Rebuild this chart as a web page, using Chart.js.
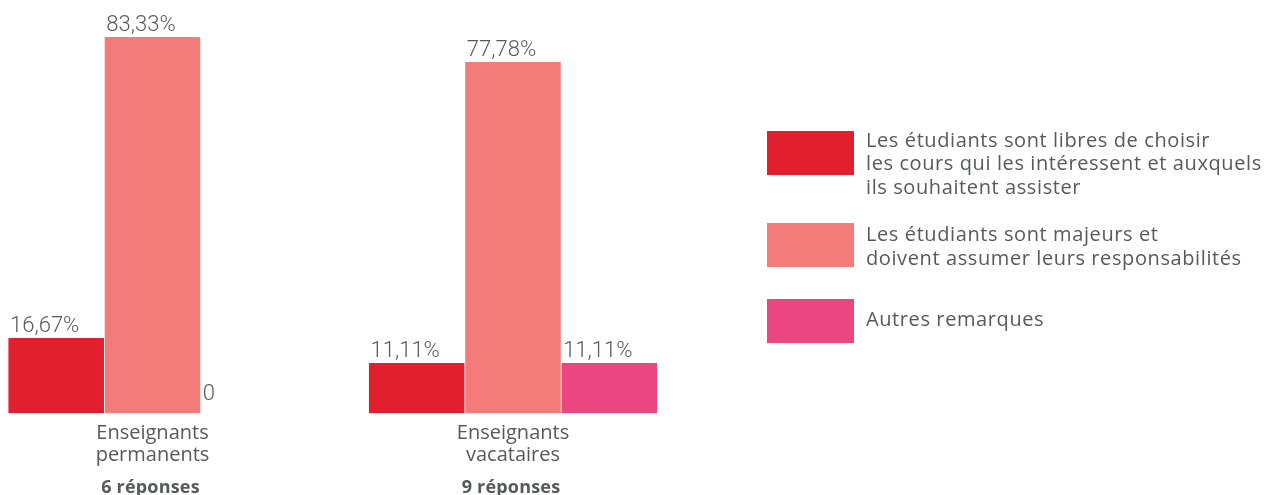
<!DOCTYPE html>
<html>
<head>
<meta charset="utf-8">
<script src="https://cdn.jsdelivr.net/npm/chart.js@4"></script>
<style>
  html, body { margin: 0; padding: 0; background: #fff; }
  #wrap { position: relative; width: 1288px; height: 495px; overflow: hidden; }
  #myChart { position: absolute; left: 0; top: 0; }
  .legend-item { position: absolute; left: 767px; }
  .legend-box { position: absolute; left: 0; width: 87px; height: 44px; }
  .legend-text { position: absolute; left: 99px; white-space: nowrap;
    font-family: "Open Sans", sans-serif; font-weight: 400; font-size: 20px;
    letter-spacing: 0.6px; line-height: 23.5px; color: #58595b; }
</style>
</head>
<body>
<div id="wrap">
  <canvas id="myChart" width="1288" height="495"></canvas>
  <div id="legend"></div>
</div>
<script>
const categories = [["Enseignants", "permanents"], ["Enseignants", "vacataires"]];
const responses = ["6 réponses", "9 réponses"];

const seriesNames = [
  ["Les étudiants sont libres de choisir", "les cours qui les intéressent et auxquels", "ils souhaitent assister"],
  ["Les étudiants sont majeurs et", "doivent assumer leurs responsabilités"],
  ["Autres remarques"]
];
const seriesColors = ["#e11f2e", "#f37b79", "#ec4680"];

const libres = [16.67, 11.11];
const majeurs = [83.33, 77.78];
const autres = [0, 11.11];

const textColor = "#58595b";

function fmt(v) {
  if (v === 0) return "0";
  return v.toFixed(2).replace(".", ",") + "%";
}

// legend (html)
const legendTops = [131, 223, 299];
const textTops = [127.5, 222, 306.5];
const legend = document.getElementById("legend");
seriesNames.forEach((lines, i) => {
  const item = document.createElement("div");
  item.className = "legend-item";
  item.style.top = "0px";
  const box = document.createElement("div");
  box.className = "legend-box";
  box.style.top = legendTops[i] + "px";
  box.style.background = seriesColors[i];
  const txt = document.createElement("div");
  txt.className = "legend-text";
  txt.style.top = textTops[i] + "px";
  txt.innerHTML = lines.join("<br>");
  item.appendChild(box);
  item.appendChild(txt);
  legend.appendChild(item);
});

const valueLabels = {
  id: "valueLabels",
  afterDatasetsDraw(chart) {
    const ctx = chart.ctx;
    ctx.save();
    ctx.font = "300 22px Roboto";
    ctx.fillStyle = textColor;
    ctx.textAlign = "left";
    ctx.textBaseline = "alphabetic";
    chart.data.datasets.forEach((ds, di) => {
      const meta = chart.getDatasetMeta(di);
      meta.data.forEach((el, i) => {
        const v = ds.data[i];
        const x = el.x - el.width / 2 + 2;
        const y = Math.min(el.y - 6, 400);
        ctx.fillText(fmt(v), x, y);
      });
    });
    ctx.restore();
  }
};

const categoryLabels = {
  id: "categoryLabels",
  afterDraw(chart) {
    const ctx = chart.ctx;
    const xScale = chart.scales.x;
    ctx.save();
    ctx.fillStyle = textColor;
    ctx.textAlign = "center";
    ctx.textBaseline = "alphabetic";
    categories.forEach((lines, i) => {
      const x = xScale.getPixelForValue(i);
      ctx.font = "400 20px 'Open Sans'";
      ctx.letterSpacing = "0px";
      lines.forEach((line, j) => {
        ctx.fillText(line, x, 438.5 + j * 22.5);
      });
      ctx.font = "bold 18px 'Open Sans'";
      ctx.letterSpacing = "0.2px";
      ctx.fillText(responses[i], x - 2, 493);
    });
    ctx.restore();
  }
};

const data = {
  labels: categories.map((c) => c.join(" ")),
  datasets: [
    { label: seriesNames[0].join(" "), data: libres, backgroundColor: seriesColors[0] },
    { label: seriesNames[1].join(" "), data: majeurs, backgroundColor: seriesColors[1] },
    { label: seriesNames[2].join(" "), data: autres, backgroundColor: seriesColors[2] }
  ].map((d) => ({
    ...d,
    clip: false,
    barThickness: 96.3,
    borderColor: "#ffffff",
    borderWidth: { left: 0.7, right: 0.7, top: 0, bottom: 0 },
    borderSkipped: false
  }))
};

const config = {
  type: "bar",
  data: data,
  options: {
    responsive: false,
    animation: false,
    layout: { padding: { left: 152.5, right: 775, top: 0, bottom: 83 } },
    scales: {
      x: { type: "category", offset: false, display: false },
      y: { display: false, min: 0.28, max: 91.53 }
    },
    plugins: {
      legend: { display: false },
      tooltip: { enabled: false }
    }
  },
  plugins: [valueLabels, categoryLabels]
};

new Chart(document.getElementById("myChart"), config);
</script>
</body>
</html>
